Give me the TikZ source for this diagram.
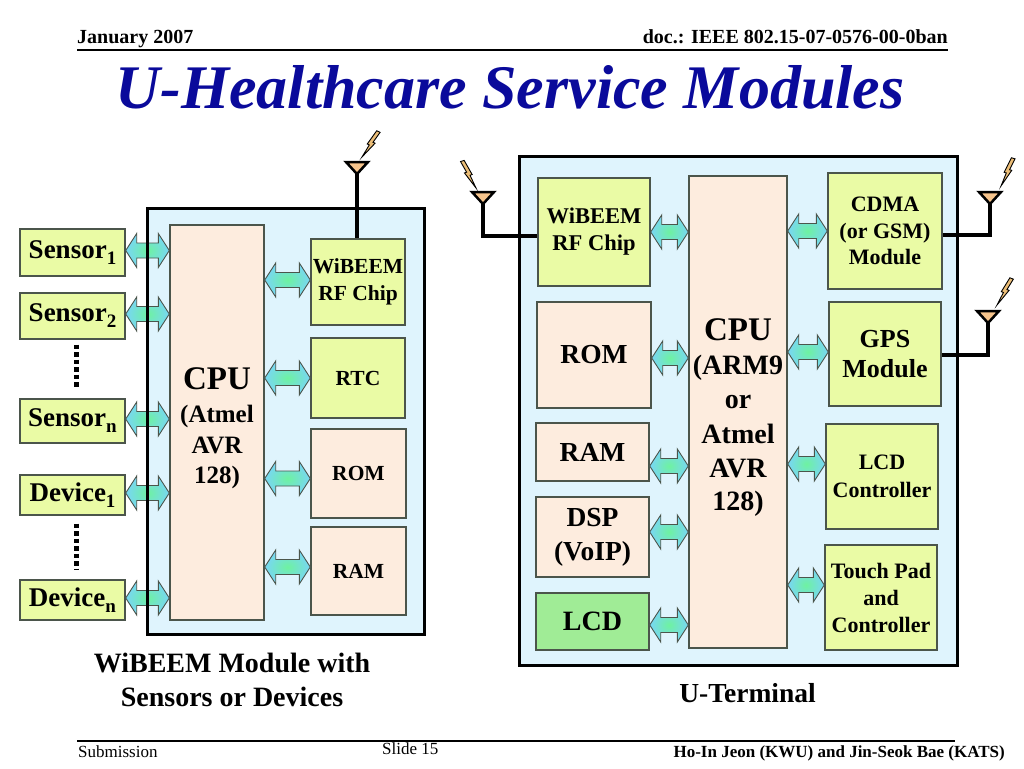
\documentclass[tikz,border=0pt]{standalone}
\usepackage{fontspec}
\setmainfont{Liberation Serif}
\usetikzlibrary{calc}
\definecolor{lblue}{RGB}{223,244,253}
\definecolor{peach}{RGB}{253,236,222}
\definecolor{ygreen}{RGB}{234,251,165}
\definecolor{lcdgreen}{RGB}{160,236,150}
\definecolor{titleblue}{RGB}{10,10,155}
\definecolor{boxline}{RGB}{75,85,75}
\definecolor{arrcyan}{RGB}{120,214,245}
\definecolor{arrgreen}{RGB}{110,242,160}
\definecolor{antfill}{RGB}{246,196,140}
\definecolor{boltfill}{RGB}{236,190,120}
\newcommand\fs[2]{\fontsize{#1}{#2}\selectfont}
\newcommand\sbs[1]{\raisebox{-0.22em}{\fontsize{19}{19}\selectfont #1}}
\tikzset{
  blk/.style={draw=boxline, line width=1.4pt, inner sep=0pt, align=center},
  ybox/.style={blk, fill=ygreen},
  pbox/.style={blk, fill=peach},
  gbox/.style={blk, fill=lcdgreen},
  modfill/.style={fill=lblue, inner sep=0pt},
  modborder/.style={draw=black, line width=3pt},
  arrowst/.style={draw=boxline, line width=0.9pt, inner color=arrgreen, outer color=arrcyan},
  stem/.style={line width=4pt, line join=miter},
  anttri/.style={fill=antfill, draw=black, line width=2.5pt, line join=miter},
  boltst/.style={fill=boltfill, draw=black, line width=0.9pt, line join=miter},
  dotline/.style={line width=4.5pt, dash pattern=on 4.5pt off 3pt},
  txt/.style={inner sep=0pt, anchor=base},
}
\newcommand\dblarrow[2]{%
  \path[arrowst] let \p1=#1, \p2=#2 in
   (\x1,\y1) -- (\x1+11pt,\y1+17pt) -- (\x1+11pt,\y1+7.5pt) -- (\x2-11pt,\y1+7.5pt)
   -- (\x2-11pt,\y1+17pt) -- (\x2,\y1) -- (\x2-11pt,\y1-17pt) -- (\x2-11pt,\y1-7.5pt)
   -- (\x1+11pt,\y1-7.5pt) -- (\x1+11pt,\y1-17pt) -- cycle;}
\newcommand\antenna[3]{%
  \coordinate (#1) at (#2,#3+12);}
\newcommand\anttop[2]{%
  \filldraw[anttri] (#1-11,#2) -- (#1+11,#2) -- (#1,#2+12) -- cycle;}
\newcommand\bolt[4]{%
  \begin{scope}[shift={(#1,#2)}, x=1pt, y=1pt, rotate=#3, xscale=#4]
    \filldraw[boltst] (3,30)--(8,30)--(5,18)--(8,18)--(0,0)--(2,14)--(-1,14)--cycle;
  \end{scope}}
\begin{document}
\begin{tikzpicture}[x=1pt,y=-1pt]
\useasboundingbox[fill=white] (0,0) rectangle (1024,768);

% header and footer
\node[txt, anchor=base west, font=\bfseries\fs{20}{24}] (hdl) at (77,44) {January 2007};
\node[txt, anchor=base east, font=\bfseries\fs{20}{24}] (hdr) at (948,44) {doc.: IEEE 802.15-07-0576-00-0ban};
\draw[line width=2pt] (77,50) -- (948,50);
\node[txt, font=\bfseries\itshape\fs{62}{70}, text=titleblue] (title) at (510,108) {U-Healthcare Service Modules};
\draw[line width=2pt] (77,741) -- (955,741);
\node[txt, anchor=base west, font=\fs{17}{20}] (ftl) at (78,757) {Submission};
\node[txt, anchor=base west, font=\fs{17}{20}] (ftc) at (382,754) {Slide 15};
\node[txt, anchor=base east, font=\bfseries\fs{17}{20}] (ftr) at (1005,757) {Ho-In Jeon (KWU) and Jin-Seok Bae (KATS)};

% module backgrounds
\node[modfill, minimum width=276, minimum height=425] (lmod) at (286,421.5) {};
\node[modfill, minimum width=437, minimum height=508] (rmod) at (738.5,411) {};

% antennas (tips)
\antenna{antL}{357}{162}
\antenna{antR1}{483}{192}
\antenna{antR2}{990}{192}
\antenna{antR3}{988}{311}

% ---------- left module ----------
\node[pbox, minimum width=94, minimum height=395] (lcpu) at (217,422.5) {};
\node[txt, font=\bfseries\fs{33}{36}] (lc1) at (217,389) {CPU};
\node[txt, font=\bfseries\fs{25}{30}] (lc2) at (217,422) {(Atmel};
\node[txt, font=\bfseries\fs{25}{30}] (lc3) at (217,453) {AVR};
\node[txt, font=\bfseries\fs{25}{30}] (lc4) at (217,483) {128)};

\node[ybox, minimum width=94, minimum height=86, font=\bfseries\fs{21.5}{27}] (lwib) at (358,282) {WiBEEM\\RF Chip};
\node[ybox, minimum width=94, minimum height=80, font=\bfseries\fs{21.5}{26}] (lrtc) at (358,378) {RTC};
\node[pbox, minimum width=95, minimum height=89, font=\bfseries\fs{21.5}{26}] (lrom) at (358.5,473.5) {ROM};
\node[pbox, minimum width=95, minimum height=88, font=\bfseries\fs{21.5}{26}] (lram) at (358.5,571) {RAM};

\node[ybox, minimum width=105, minimum height=47, font=\bfseries\fs{27}{30}] (s1) at (72.5,252.5) {Sensor\sbs{1}};
\node[ybox, minimum width=105, minimum height=46, font=\bfseries\fs{27}{30}] (s2) at (72.5,316) {Sensor\sbs{2}};
\node[ybox, minimum width=105, minimum height=44, font=\bfseries\fs{27}{30}] (sn) at (72.5,421) {Sensor\sbs{n}};
\node[ybox, minimum width=105, minimum height=40, font=\bfseries\fs{27}{30}] (d1) at (72.5,495) {Device\sbs{1}};
\node[ybox, minimum width=105, minimum height=40, font=\bfseries\fs{27}{30}] (dn) at (72.5,600) {Device\sbs{n}};

\draw[dotline] ([xshift=4pt,yshift=-5pt]s2.south) -- ([xshift=4pt,yshift=10pt]sn.north);
\draw[dotline] ([xshift=4pt,yshift=-8pt]d1.south) -- ([xshift=4pt,yshift=10pt]dn.north);

\dblarrow{([yshift=2pt]s1.east)}{(lcpu.west)}
\dblarrow{([yshift=2pt]s2.east)}{(lcpu.west)}
\dblarrow{([yshift=2pt]sn.east)}{(lcpu.west)}
\dblarrow{([yshift=2pt]d1.east)}{(lcpu.west)}
\dblarrow{([yshift=2pt]dn.east)}{(lcpu.west)}
\dblarrow{([yshift=2pt]lcpu.east |- lwib.west)}{(lwib.west)}
\dblarrow{(lcpu.east |- lrtc.west)}{(lrtc.west)}
\dblarrow{([yshift=-5pt]lcpu.east |- lrom.west)}{(lrom.west)}
\dblarrow{([yshift=4pt]lcpu.east |- lram.west)}{(lram.west)}

\draw[modborder] (lmod.north west) rectangle (lmod.south east);
\draw[stem] (antL) -- (antL |- lwib.north);
\anttop{357}{162}
\bolt{362}{157}{-25}{0.75}

\node[txt, font=\bfseries\fs{28}{34}] (lcap1) at (232,672) {WiBEEM Module with};
\node[txt, font=\bfseries\fs{28}{34}] (lcap2) at (232,706) {Sensors or Devices};

% ---------- right module ----------
\node[pbox, minimum width=98, minimum height=472] (rcpu) at (738,412) {};
\node[txt, font=\bfseries\fs{33}{36}] (rc1) at (738,340) {CPU};
\node[txt, font=\bfseries\fs{28}{32}] (rc2) at (738,374) {(ARM9};
\node[txt, font=\bfseries\fs{28}{32}] (rc3) at (738,408) {or};
\node[txt, font=\bfseries\fs{28}{32}] (rc4) at (738,443) {Atmel};
\node[txt, font=\bfseries\fs{28}{32}] (rc5) at (738,477) {AVR};
\node[txt, font=\bfseries\fs{28}{32}] (rc6) at (738,510) {128)};

\node[ybox, minimum width=112, minimum height=108, font=\bfseries\fs{22.5}{27}] (rwib) at (594,232) {WiBEEM\\RF Chip};
\node[pbox, minimum width=114, minimum height=106, font=\bfseries\fs{27.5}{32}] (rrom) at (594,355) {ROM};
\node[pbox, minimum width=113, minimum height=58, font=\bfseries\fs{27.5}{32}] (rram) at (592.5,452) {RAM};
\node[pbox, minimum width=113, minimum height=80, font=\bfseries\fs{27.5}{34}] (rdsp) at (592.5,537) {DSP\\(VoIP)};
\node[gbox, minimum width=113, minimum height=57, font=\bfseries\fs{28}{32}] (rlcd) at (592.5,621.5) {LCD};

\node[ybox, minimum width=114, minimum height=116, font=\bfseries\fs{22}{26.5}] (rcdma) at (885,231) {CDMA\\(or GSM)\\Module};
\node[ybox, minimum width=112, minimum height=104, font=\bfseries\fs{26}{30}] (rgps) at (885,354) {GPS\\Module};
\node[ybox, minimum width=112, minimum height=105, font=\bfseries\fs{22}{28}] (rlcdc) at (882,476.5) {LCD\\Controller};
\node[ybox, minimum width=112, minimum height=105, font=\bfseries\fs{22}{27}] (rtouch) at (881,597.5) {Touch Pad\\and\\Controller};

\dblarrow{(rwib.east)}{(rcpu.west)}
\dblarrow{([yshift=-3pt]rrom.east)}{(rcpu.west)}
\dblarrow{([yshift=-14pt]rram.east)}{(rcpu.west)}
\dblarrow{([yshift=5pt]rdsp.east)}{(rcpu.west)}
\dblarrow{([yshift=-3.5pt]rlcd.east)}{(rcpu.west)}
\dblarrow{(rcpu.east |- rcdma.west)}{(rcdma.west)}
\dblarrow{([yshift=2pt]rcpu.east |- rgps.west)}{(rgps.west)}
\dblarrow{([yshift=12.5pt]rcpu.east |- rlcdc.west)}{(rlcdc.west)}
\dblarrow{([yshift=12.5pt]rcpu.east |- rtouch.west)}{(rtouch.west)}

\draw[modborder] (rmod.north west) rectangle (rmod.south east);
\draw[stem] (antR1) |- ([yshift=-4pt]rwib.west);
\draw[stem] (antR2) |- ([yshift=-4pt]rcdma.east);
\draw[stem] (antR3) |- ([yshift=-1pt]rgps.east);
\anttop{483}{192}
\anttop{990}{192}
\anttop{988}{311}
\bolt{476}{188}{19}{-0.75}
\bolt{1001}{186}{-16}{0.75}
\bolt{997}{305}{-21}{0.75}

\node[txt, font=\bfseries\fs{27.5}{32}] (rcap) at (747.5,702) {U-Terminal};
\end{tikzpicture}
\end{document}
